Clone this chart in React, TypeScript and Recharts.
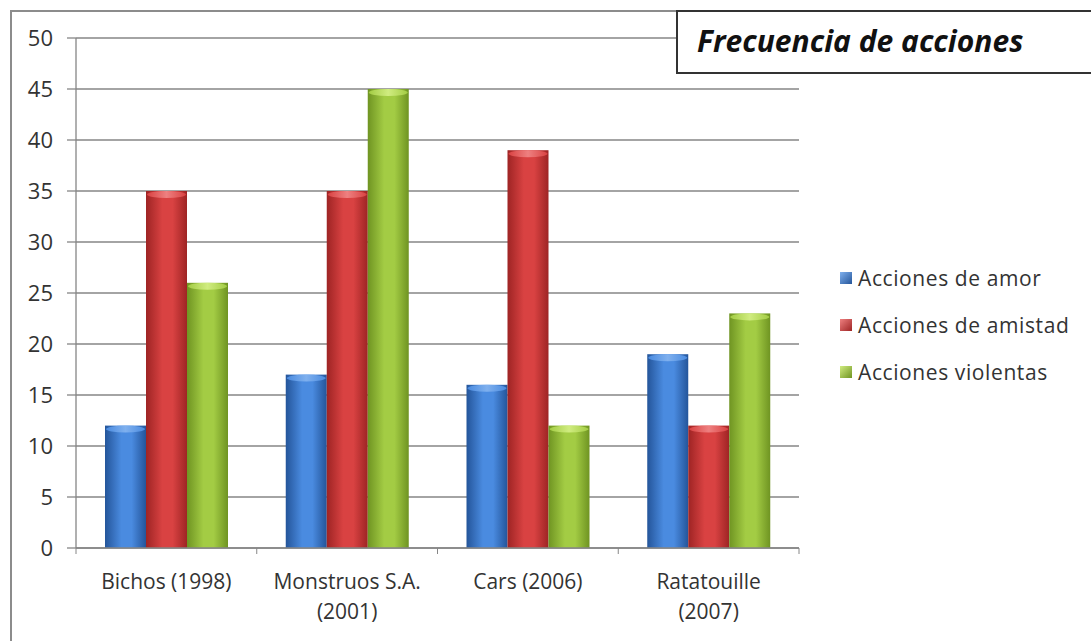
import React from 'react'
import { BarChart, Bar, XAxis, YAxis, CartesianGrid } from 'recharts'

const peliculas = ['Bichos (1998)', 'Monstruos S.A. (2001)', 'Cars (2006)', 'Ratatouille (2007)']
const amor = [12, 17, 16, 19]
const amistad = [35, 35, 39, 12]
const violentas = [26, 45, 12, 23]
const ticksY = [0, 5, 10, 15, 20, 25, 30, 35, 40, 45, 50]

const series = [
  { key: 'amor', nombre: 'Acciones de amor', dark: '#24559a', mid: '#4a8be0', top: '#7fb0ee' },
  { key: 'amistad', nombre: 'Acciones de amistad', dark: '#9e2424', mid: '#d94242', top: '#ee8080' },
  { key: 'violentas', nombre: 'Acciones violentas', dark: '#6f9422', mid: '#a3cc44', top: '#d0ec80' },
]

const data = peliculas.map((p, i) => ({ nombre: p, amor: amor[i], amistad: amistad[i], violentas: violentas[i] }))

const FONT = '"Open Sans", sans-serif'

const BarraCilindro = (props: any) => {
  const { x, y, width, height, id } = props
  if (!height || height <= 0) return null
  const cap = Math.min(7, height)
  return (
    <g>
      <rect x={x} y={y} width={width} height={height} fill={`url(#g-${id})`} />
      <rect x={x + 1} y={y} width={width - 2} height={cap} rx={width / 2} ry={cap} fill={`url(#t-${id})`} />
    </g>
  )
}

const TickX = (props: any) => {
  const { x, y, payload, index, visibleTicksCount } = props
  const txt: string = payload.value
  let lineas = [txt]
  if (txt.length > 14) {
    const k = txt.lastIndexOf(' ')
    lineas = [txt.slice(0, k), txt.slice(k + 1)]
  }
  const half = payload.offset || 0
  return (
    <g>
      <line x1={x - half} y1={y - 8} x2={x - half} y2={y - 2} stroke="#868686" />
      {index === visibleTicksCount - 1 && <line x1={x + half} y1={y - 8} x2={x + half} y2={y - 2} stroke="#868686" />}
      {lineas.map((l, i) => (
        <text key={i} x={x} y={y + 33 + i * 30} textAnchor="middle" fontSize={21} fill="#333" fontFamily={FONT}>{l}</text>
      ))}
    </g>
  )
}

export default function App() {
  return (
    <div style={{ position: 'absolute', left: 0, top: 0, width: 1091, height: 641, background: '#fff', fontFamily: FONT }}>
      <div style={{ position: 'absolute', left: 10, top: 10, width: 1100, height: 660, border: '2px solid #8c8c8c', boxSizing: 'border-box' }} />
      <BarChart width={1091} height={641} data={data} margin={{ top: 38, right: 292, left: 0, bottom: 33 }} barSize={41} barGap={0}>
        <defs>
          {series.map(s => (
            <React.Fragment key={s.key}>
              <linearGradient id={`g-${s.key}`} x1="0" y1="0" x2="1" y2="0">
                <stop offset="0%" stopColor={s.dark} />
                <stop offset="40%" stopColor={s.mid} />
                <stop offset="65%" stopColor={s.mid} />
                <stop offset="100%" stopColor={s.dark} />
              </linearGradient>
              <linearGradient id={`t-${s.key}`} x1="0" y1="0" x2="1" y2="0">
                <stop offset="0%" stopColor={s.mid} />
                <stop offset="50%" stopColor={s.top} />
                <stop offset="100%" stopColor={s.mid} />
              </linearGradient>
            </React.Fragment>
          ))}
        </defs>
        <CartesianGrid vertical={false} stroke="#868686" strokeWidth={1.3} />
        <XAxis dataKey="nombre" stroke="#868686" strokeWidth={1.3} tickLine={false} height={60} interval={0} tick={<TickX />} />
        <YAxis domain={[0, 50]} ticks={ticksY} width={76} stroke="#868686" strokeWidth={1.3} tickSize={9} tickMargin={14} interval={0}
          tick={{ fontSize: 22, fill: '#333', fontFamily: FONT }} />
        {series.map(s => (
          <Bar key={s.key} dataKey={s.key} name={s.nombre} isAnimationActive={false}
            shape={(p: any) => <BarraCilindro {...p} id={s.key} />} />
        ))}
      </BarChart>
      <div style={{ position: 'absolute', left: 676, top: 10, width: 420, height: 64, border: '2px solid #333', boxSizing: 'border-box', background: '#fff' }}>
        <div style={{ position: 'absolute', left: 19, top: 8, fontSize: 30, fontWeight: 700, fontStyle: 'italic', color: '#111', whiteSpace: 'nowrap' }}>
          Frecuencia de acciones
        </div>
      </div>
      <div style={{ position: 'absolute', left: 840, top: 254 }}>
        {series.map(s => (
          <div key={s.key} style={{ display: 'flex', alignItems: 'center', height: 47 }}>
            <span style={{ width: 12, height: 12, background: `linear-gradient(135deg, ${s.top}, ${s.dark})`, marginRight: 6, display: 'inline-block' }} />
            <span style={{ fontSize: 21, letterSpacing: 0.6, color: '#333', whiteSpace: 'nowrap' }}>{s.nombre}</span>
          </div>
        ))}
      </div>
    </div>
  )
}
